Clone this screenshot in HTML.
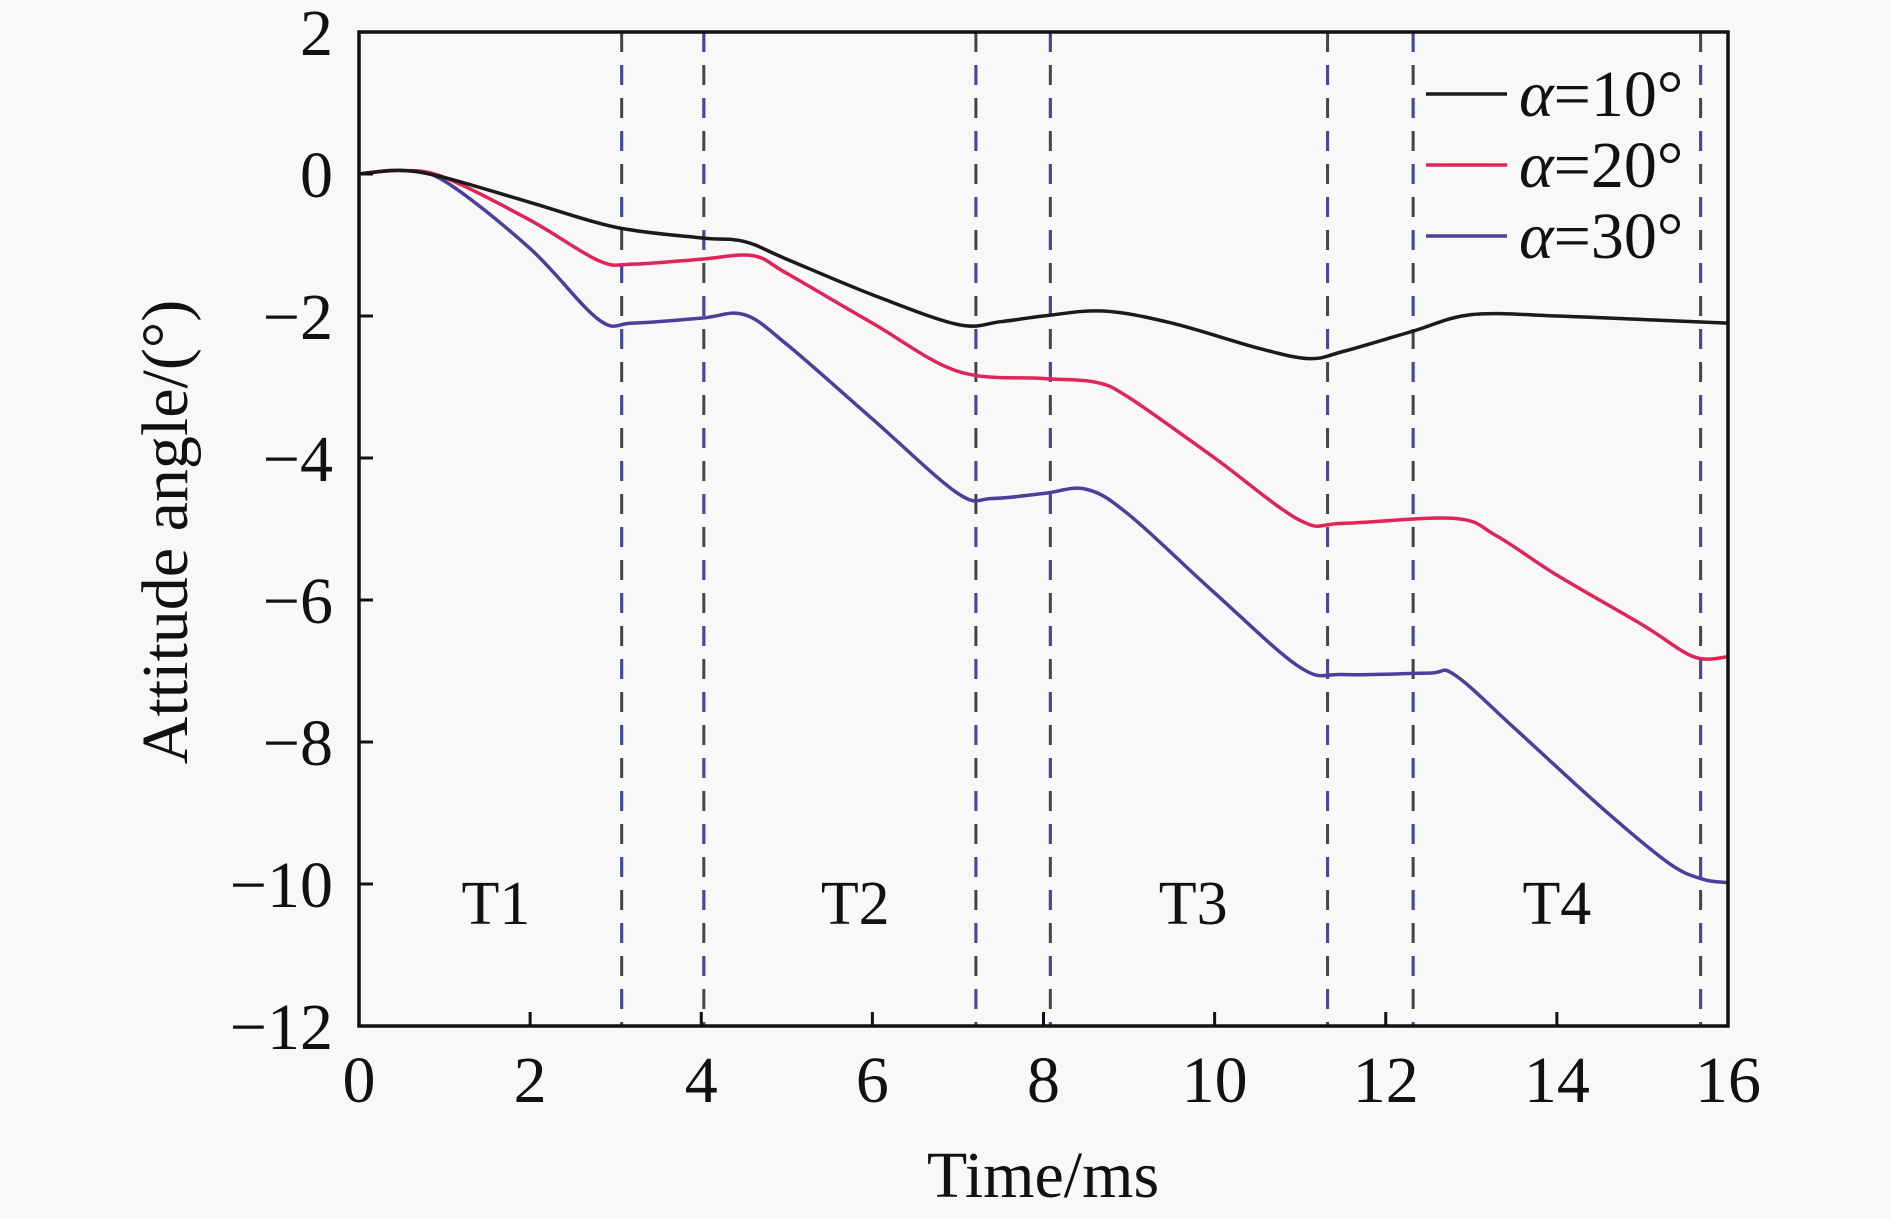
<!DOCTYPE html>
<html><head><meta charset="utf-8"><style>
html,body{margin:0;padding:0;background:#f8f8f8;}
svg{display:block;font-family:"Liberation Serif",serif;}
</style></head><body>
<svg id="chart" width="1890" height="1219" viewBox="0 0 1890 1219">
<rect width="1890" height="1219" fill="#f8f8f8"/>
<g id="dividers"></g>
<g id="series"></g>
<g id="axes"></g>
<g id="legend"></g>
</svg>
<script>
const xTicks=[0,2,4,6,8,10,12,14,16];
const yTicks=[2,0,-2,-4,-6,-8,-10,-12];
const dividerTimes=[3.07,4.03,7.21,8.08,11.32,12.32,15.68];
const phaseLabels=["T1","T2","T3","T4"];
const phaseLabelX=[1.6,5.8,9.75,14.0];
const seriesNames=["α=10°","α=20°","α=30°"];
const t10=[0,0.5,1,2,3,4,4.5,5,6,7,7.5,8,8.7,9.5,10.5,11.1,11.5,12.3,13,14,15,16];
const v10=[0,0.05,-0.05,-0.4,-0.75,-0.9,-0.95,-1.2,-1.7,-2.12,-2.08,-2.0,-1.93,-2.1,-2.45,-2.6,-2.5,-2.22,-1.98,-2.0,-2.05,-2.1];
const t20=[0,0.5,1,2,2.8,3.2,4,4.6,5,6,7,8,8.6,9,10,11,11.5,12.8,13.3,14,15,15.6,16];
const v20=[0,0.05,-0.05,-0.65,-1.22,-1.27,-1.2,-1.15,-1.4,-2.1,-2.78,-2.88,-2.93,-3.15,-4.0,-4.88,-4.92,-4.85,-5.1,-5.65,-6.35,-6.8,-6.8];
const t30=[0,0.5,1,2,2.8,3.2,4,4.5,5,6,7,7.4,8,8.5,9,10,11,11.5,12.5,12.8,13.5,14.5,15.3,15.7,16];
const v30=[0,0.05,-0.1,-1.05,-2.05,-2.1,-2.03,-1.98,-2.4,-3.45,-4.5,-4.57,-4.5,-4.44,-4.8,-5.9,-6.95,-7.05,-7.03,-7.05,-7.8,-8.9,-9.7,-9.93,-9.98];

const L=359,R=1728,T=32,B=1026;
const X=v=>L+(v-0)/16*(R-L);
const Y=v=>T+(2-v)/14*(B-T);
const NS="http://www.w3.org/2000/svg";
function mk(tag,attrs,parent){const e=document.createElementNS(NS,tag);for(const k in attrs)e.setAttribute(k,attrs[k]);parent.appendChild(e);return e;}

const dv=document.getElementById('dividers');
dividerTimes.forEach((t,i)=>{
  const a=mk('line',{x1:X(t),x2:X(t),y1:T,y2:B,stroke:'#444','stroke-width':3,'stroke-dasharray':'20 13'},dv);
  
  
  const b=mk('line',{x1:X(t),x2:X(t),y1:T,y2:B,stroke:'#4848b0','stroke-width':3,'stroke-dasharray':'20 46','stroke-dashoffset':(i%2?'0':'-33'),opacity:0.8},dv);
  
  
});
phaseLabels.forEach((s,i)=>{
  const tx=mk('text',{x:X(phaseLabelX[i]),y:924,'font-size':62,'text-anchor':'middle',fill:'#111'},dv);
  tx.textContent=s;
  
  
});

function pathFrom(ts,vs){
  const p=ts.map((t,i)=>[X(t),Y(vs[i])]);
  let d='M'+p[0][0]+','+p[0][1];
  for(let i=0;i<p.length-1;i++){
    const p0=p[Math.max(0,i-1)],p1=p[i],p2=p[i+1],p3=p[Math.min(p.length-1,i+2)];
    const c1=[p1[0]+(p2[0]-p0[0])/6,p1[1]+(p2[1]-p0[1])/6];
    const c2=[p2[0]-(p3[0]-p1[0])/6,p2[1]-(p3[1]-p1[1])/6];
    d+=' C'+c1[0]+','+c1[1]+' '+c2[0]+','+c2[1]+' '+p2[0]+','+p2[1];
  }
  return d;
}
const sg=document.getElementById('series');
const colors=['#1a1a1a','#e0245a','#4a3f9a'];
const data=[[t10,v10],[t20,v20],[t30,v30]];
[2,1,0].forEach(i=>{
  const p=mk('path',{d:pathFrom(data[i][0],data[i][1]),fill:'none',stroke:colors[i],'stroke-width':3.5},sg);
  
  
});

const ax=document.getElementById('axes');
const fr=mk('rect',{x:L,y:T,width:R-L,height:B-T,fill:'none',stroke:'#111','stroke-width':3.5},ax);


xTicks.forEach(v=>{
  const tk=mk('line',{x1:X(v),x2:X(v),y1:B,y2:B-14,stroke:'#111','stroke-width':3},ax);
  
  
  const tx=mk('text',{x:X(v),y:1102,'font-size':66,'text-anchor':'middle',fill:'#111'},ax);
  tx.textContent=v;
  
  
});
yTicks.forEach(v=>{
  const tk=mk('line',{x1:L,x2:L+14,y1:Y(v),y2:Y(v),stroke:'#111','stroke-width':3},ax);
  
  
  const tx=mk('text',{x:333,y:Y(v)+23,'font-size':66,'text-anchor':'end',fill:'#111'},ax);
  tx.textContent=v<0?'\u2212'+(-v):String(v);
  
  
});
const xt=mk('text',{x:1043,y:1197,'font-size':66,'text-anchor':'middle',fill:'#111'},ax);
xt.textContent='Time/ms';


const yt=mk('text',{x:0,y:0,'font-size':66,'text-anchor':'middle',fill:'#111',transform:'translate(187,532) rotate(-90)'},ax);
yt.textContent='Attitude angle/(°)';



const lg=document.getElementById('legend');
seriesNames.forEach((s,i)=>{
  const y=94+i*71;
  const ln=mk('line',{x1:1426,x2:1507,y1:y,y2:y,stroke:colors[i],'stroke-width':3.5},lg);
  
  
  const tx=mk('text',{x:1519,y:y+22,'font-size':66,fill:'#111'},lg);
  tx.innerHTML='<tspan font-style="italic">α</tspan>'+s.slice(1);
  
  
});
</script>
</body></html>
